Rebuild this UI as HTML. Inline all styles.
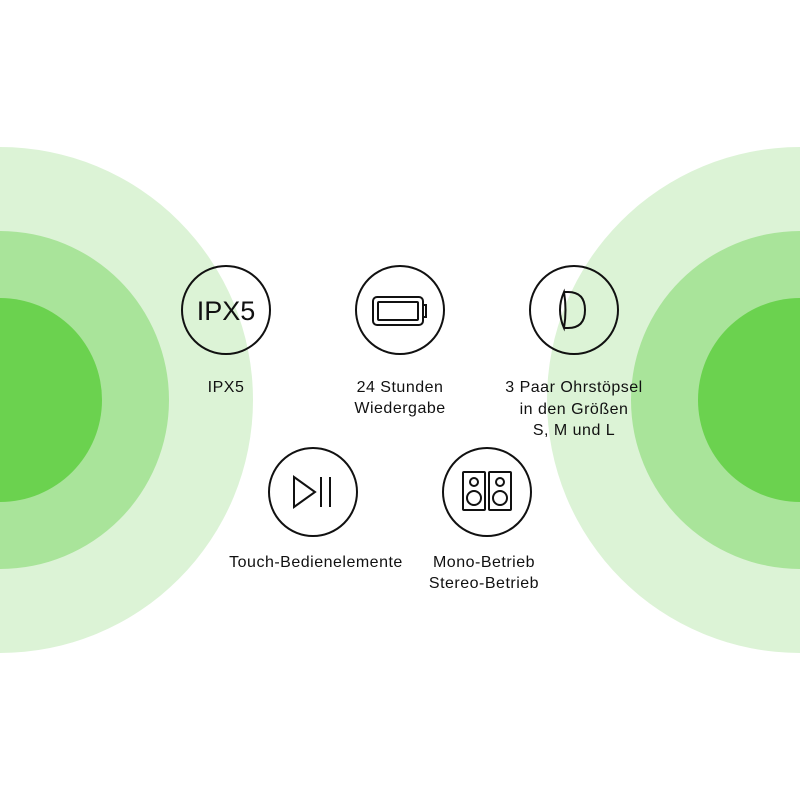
<!DOCTYPE html>
<html><head><meta charset="utf-8"><style>
body{margin:0;width:800px;height:800px;overflow:hidden;background:#fff}
</style></head><body>
<svg width="800" height="800" viewBox="0 0 800 800" xmlns="http://www.w3.org/2000/svg">
<circle cx="0" cy="400" r="253" fill="#dcf3d6"/>
<circle cx="0" cy="400" r="169" fill="#a9e49a"/>
<circle cx="0" cy="400" r="102" fill="#6bd24f"/>
<circle cx="800" cy="400" r="253" fill="#dcf3d6"/>
<circle cx="800" cy="400" r="169" fill="#a9e49a"/>
<circle cx="800" cy="400" r="102" fill="#6bd24f"/>
<g fill="none" stroke="#111" stroke-width="2">
<circle cx="226" cy="310" r="44"/>
<circle cx="400" cy="310" r="44"/>
<circle cx="574" cy="310" r="44"/>
<circle cx="313" cy="492" r="44"/>
<circle cx="487" cy="492" r="44"/>
<rect x="373" y="297" width="50" height="28" rx="4"/>
<rect x="378" y="302" width="40" height="18" rx="1"/>
<path d="M423 305h3v12h-3"/>
<path d="M564 292q-8 18 0 36q3 -18 0 -36z"/>
<path d="M564 292h4q17 0 17 18q0 18 -17 18h-4"/>
<path d="M294 477v30l21-15z"/>
<path d="M321 477v30M330 477v30"/>
<rect x="463" y="472" width="22" height="38" rx="1"/>
<rect x="489" y="472" width="22" height="38" rx="1"/>
<circle cx="474" cy="482" r="4"/><circle cx="474" cy="498" r="7"/>
<circle cx="500" cy="482" r="4"/><circle cx="500" cy="498" r="7"/>
</g>
<g font-family="Liberation Sans, sans-serif" fill="#111" text-anchor="middle">
<text x="226" y="320" font-size="27">IPX5</text>
<g font-size="16" letter-spacing="0.5">
<text x="226" y="392">IPX5</text>
<text x="400" y="392">24 Stunden</text>
<text x="400" y="413">Wiedergabe</text>
<text x="574" y="392">3 Paar Ohrstöpsel</text>
<text x="574" y="414">in den Größen</text>
<text x="574" y="435">S, M und L</text>
<text x="316" y="567">Touch-Bedienelemente</text>
<text x="484" y="567">Mono-Betrieb</text>
<text x="484" y="588">Stereo-Betrieb</text>
</g></g>
</svg>
</body></html>
